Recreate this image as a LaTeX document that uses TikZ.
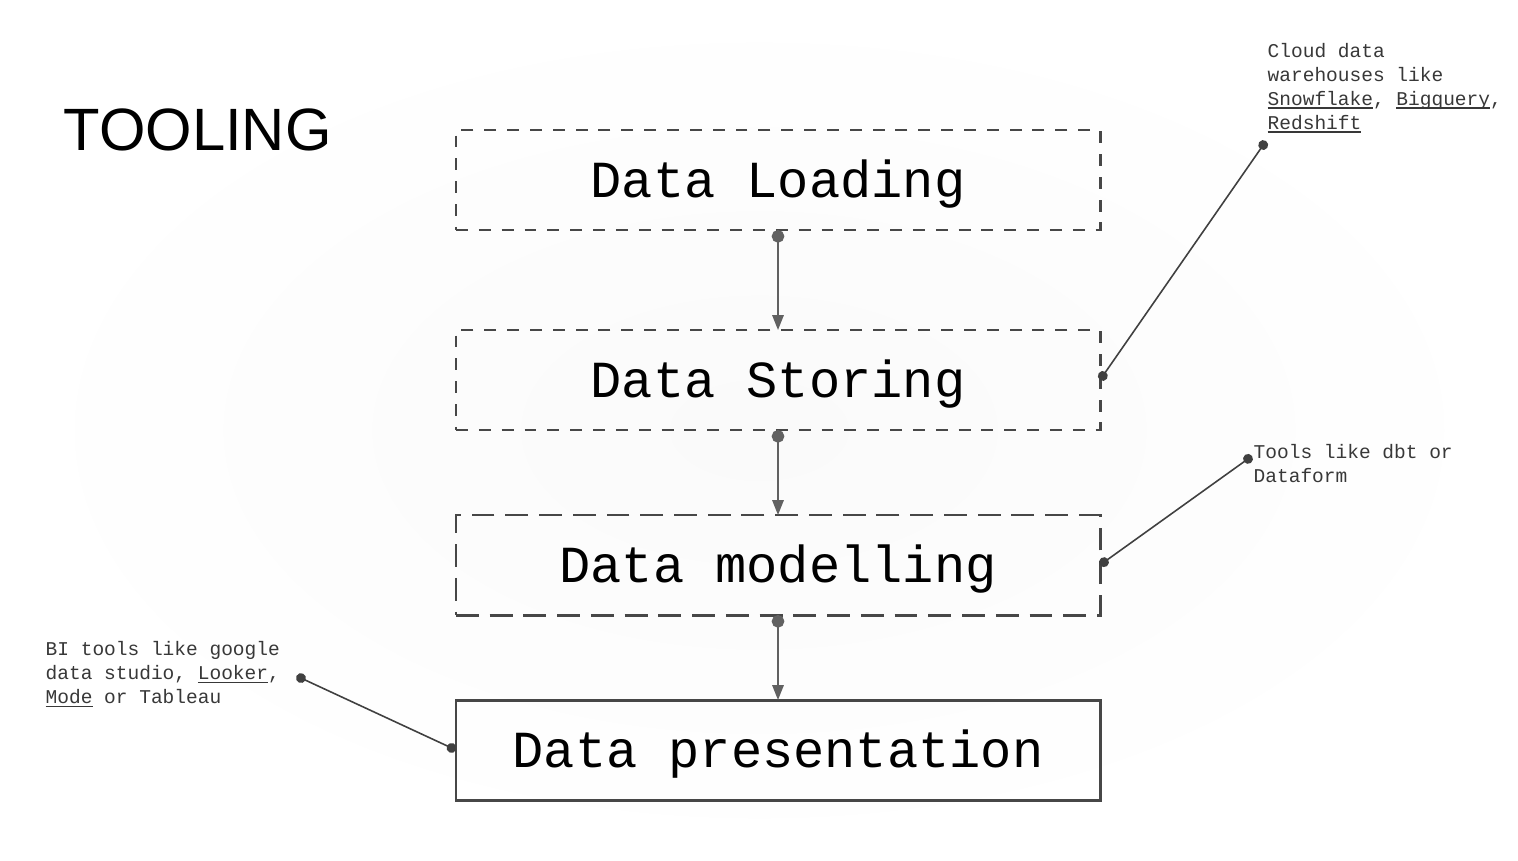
\documentclass[tikz,border=0pt]{standalone}
\usepackage{fontspec}
\setmainfont{Liberation Sans}
\setmonofont{Liberation Mono}
\usetikzlibrary{arrows.meta, positioning}

% underline for the tool names
\newlength\ulwd
\newcommand\toolname[1]{\settowidth\ulwd{#1}\rlap{\rule[-0.95pt]{\ulwd}{0.4pt}}#1}

\begin{document}
\begin{tikzpicture}[
    % styles of the stages and notes
    stage/.style={rectangle, draw=black!72, line width=0.85pt, dash pattern=on 3.4pt off 3.1pt, minimum width=6.44cm, minimum height=1cm, inner sep=0pt, outer sep=0pt, text height=0.34cm, text depth=0pt, align=center, font=\ttfamily\fontsize{14.8}{18}\selectfont},
    final/.style={stage, solid},
    note/.style={inner sep=0pt, align=left, anchor=north west, text=black!78, font=\ttfamily\fontsize{5.55}{6.83}\selectfont},
    arrow/.style={{Circle[length=3.6pt]}-{Triangle[length=4.2pt, width=3.2pt]}, draw=black!62, line width=0.55pt},
    pin/.style={{Circle[length=2.8pt]}-{Circle[length=2.8pt]}, draw=black!75, line width=0.45pt}
]

% background
\useasboundingbox (0,0) rectangle (15.18,-8.6);
\shade[inner color=black!2, outer color=white] (0,0) rectangle (15.18,-8.6);

% title
\node (title) [anchor=base west, inner sep=0pt, font=\fontsize{17}{20}\selectfont] at (0.63,-1.50) {TOOLING};

% --- stages ---
\node (load) [stage] at (7.78,-1.80) {Data Loading};
\node (store) [stage, below=1cm of load] {Data Storing};
\node (model) [stage, dash pattern=on 6.5pt off 3.1pt, below=0.85cm of store] {Data modelling};
\node (present) [final, below=0.85cm of model] {Data presentation};

% --- notes ---
\node (cloud) [note] at (12.67,-0.425) {Cloud data\\warehouses like\\\toolname{Snowflake}, \toolname{Bigquery},\\\toolname{Redshift}};
\node (dbt) [note] at (12.53,-4.44) {Tools like dbt or\\Dataform};
\node (bi) [note] at (0.45,-6.41) {BI tools like google\\data studio, \toolname{Looker},\\\toolname{Mode} or Tableau};

\coordinate (cloudpin) at (12.66,-1.41);
\coordinate (dbtpin) at (12.52,-4.56);
\coordinate (bipin) at (2.965,-6.76);

% --- arrows ---
\draw [arrow] (load) -- (store);
\draw [arrow] (store) -- (model);
\draw [arrow] (model) -- (present);

% --- note connectors ---
\draw [pin] (store.east) -- (cloudpin);
\draw [pin] (model.east) -- (dbtpin);
\draw [pin] (present.west) -- (bipin);

\end{tikzpicture}
\end{document}
